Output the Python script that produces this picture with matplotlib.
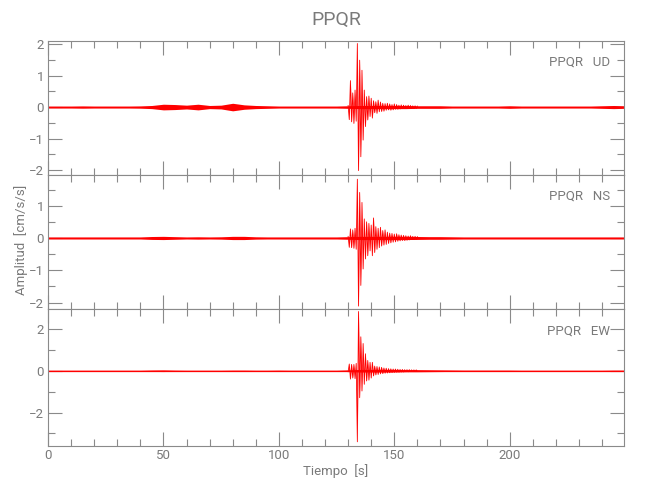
import numpy as np
import matplotlib
matplotlib.use("Agg")
import matplotlib.pyplot as plt
from matplotlib.ticker import MultipleLocator

plt.rcParams['font.family'] = ['Roboto', 'DejaVu Sans']
plt.rcParams['font.weight'] = 'normal'

station = "PPQR"
components = ["UD", "NS", "EW"]

# background noise envelope (half amplitude) every 5 s, 0..250 s
bg_t = np.arange(0, 251, 5)
ud_bg = [0.03, 0.03, 0.03, 0.035, 0.03, 0.03, 0.03, 0.03, 0.035, 0.05,
         0.09, 0.08, 0.06, 0.09, 0.05, 0.06, 0.12, 0.07, 0.05, 0.04,
         0.03, 0.03, 0.03, 0.03, 0.03, 0.03, 0.04, 0.05, 0.05, 0.05,
         0.05, 0.05, 0.04, 0.04, 0.04, 0.03, 0.03, 0.03, 0.03, 0.03,
         0.04, 0.03, 0.03, 0.03, 0.03, 0.03, 0.03, 0.03, 0.04, 0.05, 0.04]
ns_bg = [0.03, 0.03, 0.03, 0.03, 0.03, 0.03, 0.03, 0.03, 0.03, 0.045,
         0.05, 0.04, 0.03, 0.035, 0.03, 0.035, 0.05, 0.05, 0.035, 0.03,
         0.03, 0.03, 0.03, 0.03, 0.03, 0.03, 0.04, 0.05, 0.05, 0.05,
         0.05, 0.05, 0.045, 0.04, 0.04, 0.035, 0.03, 0.03, 0.03, 0.03,
         0.03, 0.03, 0.03, 0.03, 0.03, 0.03, 0.03, 0.03, 0.03, 0.03, 0.03]
ew_bg = [0.025, 0.025, 0.025, 0.025, 0.025, 0.025, 0.025, 0.025, 0.025, 0.035,
         0.04, 0.03, 0.025, 0.025, 0.025, 0.025, 0.03, 0.03, 0.025, 0.025,
         0.03, 0.025, 0.025, 0.025, 0.025, 0.025, 0.04, 0.06, 0.06, 0.06,
         0.06, 0.05, 0.05, 0.045, 0.04, 0.035, 0.03, 0.03, 0.03, 0.03,
         0.03, 0.025, 0.025, 0.025, 0.025, 0.025, 0.025, 0.025, 0.025, 0.03, 0.03]

# event peaks (alternating) every 0.5 s from 130 to 160 s
ev_t = np.arange(130.0, 160.01, 0.5)
ud_ev = [0.05, -0.40, 0.84, -0.47, 0.45, -0.52, 0.54, -0.45, 2.02, -2.02,
         1.49, -1.58, 1.17, -1.05, 0.54, -0.62, 0.33, -0.41, 0.35, -0.30,
         0.28, -0.35, 0.20, -0.18, 0.17, -0.20, 0.22, -0.15, 0.16, -0.14,
         0.12, -0.13, 0.11, -0.10, 0.12, -0.09, 0.10, -0.10, 0.08, -0.09,
         0.10, -0.07, 0.08, -0.07, 0.06, -0.06, 0.07, -0.05, 0.06, -0.05,
         0.05, -0.05, 0.06, -0.04, 0.05, -0.04, 0.04, -0.05, 0.04, -0.04, 0.03]
ns_ev = [0.05, -0.29, 0.28, -0.30, 0.25, -0.32, 0.30, -0.35, 1.82, -2.11,
         1.41, -1.47, 1.10, -0.96, 0.59, -0.65, 0.50, -0.55, 0.45, -0.40,
         0.40, -0.55, 0.62, -0.45, 0.35, -0.35, 0.30, -0.30, 0.33, -0.25,
         0.23, -0.22, 0.25, -0.20, 0.18, -0.17, 0.15, -0.15, 0.14, -0.13,
         0.12, -0.12, 0.13, -0.10, 0.10, -0.09, 0.09, -0.08, 0.08, -0.08,
         0.07, -0.07, 0.06, -0.06, 0.07, -0.05, 0.05, -0.05, 0.05, -0.04, 0.04]
ew_ev = [-0.05, 0.32, -0.40, 0.30, -0.35, 0.30, -0.38, 0.35, -3.40, 2.83,
         -1.29, 1.62, -0.97, 1.30, -0.65, 0.81, -0.49, 0.49, -0.45, 0.40,
         -0.35, 0.40, -0.25, 0.22, -0.20, 0.20, -0.18, 0.18, -0.15, 0.16,
         -0.14, 0.13, -0.12, 0.12, -0.11, 0.10, -0.10, 0.09, -0.09, 0.08,
         -0.08, 0.08, -0.07, 0.07, -0.07, 0.06, -0.06, 0.06, -0.06, 0.05,
         -0.05, 0.05, -0.05, 0.05, -0.04, 0.04, -0.04, 0.04, -0.04, 0.04, -0.03]

bgs = [ud_bg, ns_bg, ew_bg]
evs = [ud_ev, ns_ev, ew_ev]
ylims = [(-2.16, 2.1), (-2.2, 1.95), (-3.6, 2.95)]
ymajor = [1, 1, 2]
yminor = [0.5, 0.5, 1]
xlim = (0, 249.5)

gray = '#8a8a8a'
tgray = '#7a7a7a'
red = '#ff0000'

fig = plt.figure(figsize=(6.5, 5.0), dpi=100)
left, width = 48 / 650, 576 / 650
boxes = [(41, 175), (175, 309), (309, 446)]

for i, (comp, bg, ev) in enumerate(zip(components, bgs, evs)):
    top, bot = boxes[i]
    ax = fig.add_axes([left, 1 - bot / 500, width, (bot - top) / 500])
    bg = np.asarray(bg)
    ax.fill_between(bg_t, -bg, bg, color=red, lw=0, alpha=1.0)
    ax.plot(bg_t, np.zeros_like(bg_t, dtype=float), color=red, lw=0.9)
    ax.fill_between(ev_t, 0, ev, color=red, lw=0, alpha=0.65)
    ax.plot(ev_t, ev, color=red, lw=0.6)
    ax.set_xlim(*xlim)
    ax.set_ylim(*ylims[i])
    ax.xaxis.set_major_locator(MultipleLocator(50))
    ax.xaxis.set_minor_locator(MultipleLocator(10))
    ax.yaxis.set_major_locator(MultipleLocator(ymajor[i]))
    ax.yaxis.set_minor_locator(MultipleLocator(yminor[i]))
    ax.tick_params(which='both', direction='in', top=True, right=True,
                   colors=gray, labelcolor=tgray, labelsize=9.5, width=0.8)
    ax.tick_params(which='major', length=10)
    ax.tick_params(which='minor', length=5)
    ax.tick_params(axis='y', pad=3)
    for s in ax.spines.values():
        s.set_color(gray)
        s.set_linewidth(0.8)
    if i < 2:
        ax.tick_params(labelbottom=False)
    else:
        ax.tick_params(axis='x', pad=2)
    ax.text(0.976, 0.84, f"{station}   {comp}", transform=ax.transAxes,
            ha='right', va='center', color=tgray, fontsize=9.5)

fig.text(336 / 650, 1 - 20 / 500, station, ha='center', va='center',
         color=tgray, fontsize=14)
fig.text(336 / 650, 1 - 471 / 500, "Tiempo  [s]", ha='center', va='center',
         color=tgray, fontsize=9.5)
fig.text(21 / 650, 1 - 240 / 500, "Amplitud  [cm/s/s]", ha='center', va='center',
         rotation=90, color=tgray, fontsize=9.5)

fig.savefig("out.png", dpi=100)
